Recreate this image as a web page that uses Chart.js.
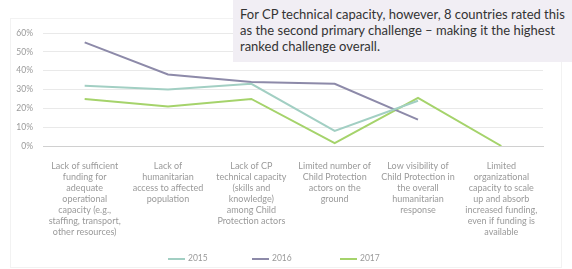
<!DOCTYPE html>
<html>
<head>
<meta charset="utf-8">
<script src="https://cdn.jsdelivr.net/npm/chart.js@4.4.1/dist/chart.umd.min.js"></script>
<style>
  html, body { margin: 0; padding: 0; background: #fff; }
  #wrap { position: relative; width: 572px; height: 269px; overflow: hidden; }
  #panel { position: absolute; left: 10px; top: 18px; width: 550px; height: 248px; border: 1px solid #f2f2f2; }
  #chart { position: absolute; left: 0; top: 0; }
  #note {
    position: absolute; left: 233px; top: 0; width: 339px; height: 62px;
    background: #f1eef4; color: #333; font-family: Lato, "Open Sans", sans-serif;
    font-size: 13px; line-height: 16px; padding: 6px 0 0 7px; box-sizing: border-box; white-space: nowrap;
  }
  #leyenda { position: absolute; top: 251px; left: 0; width: 572px; height: 14px;
    font-family: Lato, "Open Sans", sans-serif; font-size: 8.5px; color: #9a9a9a; }
  #leyenda span { position: absolute; top: 0; line-height: 14px; }
  #leyenda i { display: inline-block; width: 17px; height: 2px; vertical-align: middle; margin-right: 3px; }
</style>
</head>
<body>
<div id="wrap">
  <div id="panel"></div>
  <canvas id="chart" width="572" height="269"></canvas>
  <div id="note">For CP technical capacity, however, 8 countries rated this<br>as the second primary challenge – making it the highest<br>ranked challenge overall.</div>
  <div id="leyenda"></div>
</div>
<script>
const categorias = [
  ["Lack of sufficient", "funding for", "adequate", "operational", "capacity (e.g.,", "staffing, transport,", "other resources)"],
  ["Lack of", "humanitarian", "access to affected", "population"],
  ["Lack of CP", "technical capacity", "(skills and", "knowledge)", "among Child", "Protection actors"],
  ["Limited number of", "Child Protection", "actors on the", "ground"],
  ["Low visibility of", "Child Protection in", "the overall", "humanitarian", "response"],
  ["Limited", "organizational", "capacity to scale", "up and absorb", "increased funding,", "even if funding is", "available"]
];
const datos2015 = [32, 30, 33, 8, 24, null];
const datos2016 = [55, 38, 34, 33, 14, null];
const datos2017 = [25, 21, 25, 1.5, 25.5, 0];
const ticksY = [0, 10, 20, 30, 40, 50, 60];

const fuente = { family: "Lato, 'Open Sans', sans-serif", size: 8.5 };

const grafico = new Chart(document.getElementById('chart').getContext('2d'), {
  type: 'line',
  data: {
    labels: categorias,
    datasets: [
      { label: '2015', data: datos2015, borderColor: '#a2cfc3', backgroundColor: '#a2cfc3', borderWidth: 2, pointRadius: 0, tension: 0 },
      { label: '2016', data: datos2016, borderColor: '#8d8aa9', backgroundColor: '#8d8aa9', borderWidth: 2, pointRadius: 0, tension: 0 },
      { label: '2017', data: datos2017, borderColor: '#a5d36b', backgroundColor: '#a5d36b', borderWidth: 2, pointRadius: 0, tension: 0 }
    ]
  },
  options: {
    responsive: false,
    animation: false,
    layout: { padding: { top: 33, right: 29, left: 0, bottom: 23 } },
    scales: {
      x: {
        offset: true,
        grid: { display: false },
        border: { display: true, color: '#d0d0d0', dash: [2, 2] },
        ticks: { color: '#9a9a9a', font: { ...fuente, size: 9, lineHeight: 1.22 }, autoSkip: false, maxRotation: 0, padding: 7 },
        afterFit: (s) => { s.height = 100; }
      },
      y: {
        min: 0, max: 60,
        afterBuildTicks: (s) => { s.ticks = ticksY.map(v => ({ value: v })); },
        grid: { color: (c) => c.tick && c.tick.value === 0 ? 'rgba(0,0,0,0)' : '#e9e9e9', drawTicks: false },
        border: { display: false },
        ticks: { color: '#9a9a9a', font: fuente, padding: 10, autoSkip: false, callback: (v) => v + '%' },
        afterFit: (s) => { s.width = 43; }
      }
    },
    plugins: {
      legend: { display: false },
      tooltip: { enabled: false }
    }
  }
});

// leyenda simple con los colores de cada serie
const posLeyenda = [168, 252, 340];
const leyenda = document.getElementById('leyenda');
grafico.data.datasets.forEach((ds, i) => {
  const item = document.createElement('span');
  item.style.left = posLeyenda[i] + 'px';
  item.innerHTML = '<i style="background:' + ds.borderColor + '"></i>' + ds.label;
  leyenda.appendChild(item);
});
</script>
</body>
</html>
